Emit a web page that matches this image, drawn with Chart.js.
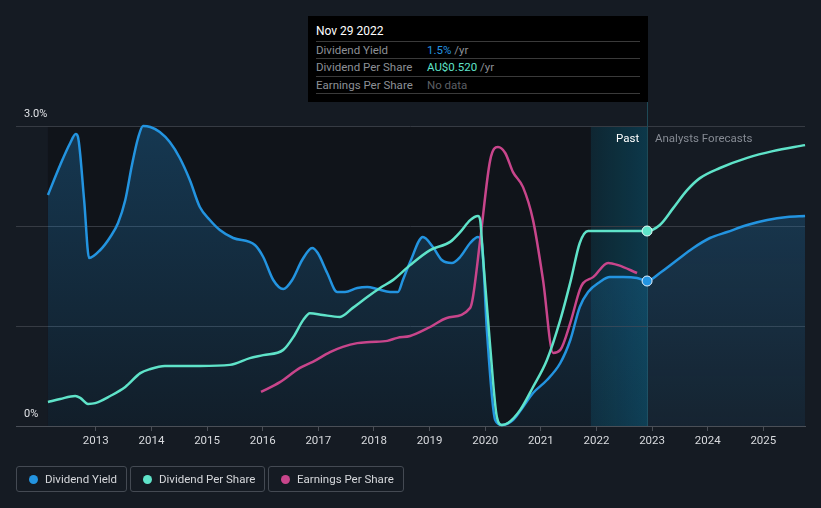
<!DOCTYPE html>
<html>
<head>
<meta charset="utf-8">
<script src="https://cdn.jsdelivr.net/npm/chart.js@4.4.1/dist/chart.umd.min.js"></script>
<style>
  html, body { margin: 0; padding: 0; background: #151b23; }
  body { width: 821px; height: 508px; position: relative; overflow: hidden; font-family: Roboto, "Open Sans", sans-serif; }
  #wrap { position: absolute; left: 0; top: 0; width: 821px; height: 508px; }
  #tip { position: absolute; left: 308px; top: 16px; width: 340px; height: 86px; background: #000; }
  #tip .title { position: absolute; left: 8px; top: 8px; color: #fff; font-size: 12px; line-height: 14px; }
  #tip .sep { position: absolute; left: 8px; width: 324px; height: 1px; background: #3a3a3a; }
  #tip .row { position: absolute; left: 8px; font-size: 11.5px; color: #8d9096; line-height: 14px; }
  #tip .val { position: absolute; left: 119px; font-size: 11.5px; color: #8d9096; line-height: 14px; }
  .lbl { position: absolute; font-size: 11.5px; line-height: 14px; }
  .legend { position: absolute; top: 466px; height: 26px; border: 1px solid #444a53; border-radius: 3px; box-sizing: border-box; color: #d6d8dc; font-size: 11.5px; line-height: 24px; }
  .legend .dot { position: absolute; left: 12px; top: 8px; width: 9px; height: 9px; border-radius: 50%; }
  .legend span.t { position: absolute; left: 28px; white-space: nowrap; }
</style>
</head>
<body>
<div id="wrap"><canvas id="c" width="821" height="508"></canvas></div>

<div id="tip">
  <div class="title">Nov 29 2022</div>
  <div class="sep" style="top:25px"></div>
  <div class="row" style="top:27px">Dividend Yield</div>
  <div class="val" style="top:27px"><span style="color:#2394e0">1.5%</span> /yr</div>
  <div class="sep" style="top:42px"></div>
  <div class="row" style="top:44px">Dividend Per Share</div>
  <div class="val" style="top:44px"><span style="color:#5fe3c9">AU$0.520</span> /yr</div>
  <div class="sep" style="top:60px"></div>
  <div class="row" style="top:62px">Earnings Per Share</div>
  <div class="val" style="top:62px;color:#5c5f64">No data</div>
  <div class="sep" style="top:77px"></div>
</div>

<div class="lbl" style="left:616px;top:131px;color:#ffffff">Past</div>
<div class="lbl" style="left:655px;top:131px;color:#858a93">Analysts Forecasts</div>

<div class="legend" style="left:16px;width:111px"><div class="dot" style="background:#2394e0"></div><span class="t">Dividend Yield</span></div>
<div class="legend" style="left:130px;width:135px"><div class="dot" style="background:#5fe3c9"></div><span class="t">Dividend Per Share</span></div>
<div class="legend" style="left:268px;width:136px"><div class="dot" style="background:#c8458b"></div><span class="t">Earnings Per Share</span></div>

<script>
// ---- data (decimal years) ----
const tickYears = [2013, 2014, 2015, 2016, 2017, 2018, 2019, 2020, 2021, 2022, 2023, 2024, 2025];
const yTickValues = [0, 1, 2, 3];

const yieldYears = [2012.14, 2012.36, 2012.54, 2012.64, 2012.68, 2012.79, 2012.88, 2013.08, 2013.26, 2013.40, 2013.53, 2013.65, 2013.76, 2013.85, 2013.98, 2014.15, 2014.33, 2014.51, 2014.69, 2014.87, 2015.05, 2015.23, 2015.47, 2015.86, 2016.01, 2016.19, 2016.37, 2016.53, 2016.71, 2016.89, 2016.99, 2017.16, 2017.34, 2017.48, 2017.70, 2017.88, 2018.06, 2018.29, 2018.43, 2018.52, 2018.65, 2018.88, 2019.06, 2019.22, 2019.40, 2019.55, 2019.73, 2019.87, 2019.94, 2020.03, 2020.18, 2020.30, 2020.50, 2020.68, 2020.86, 2021.11, 2021.35, 2021.53, 2021.70, 2021.85, 2022.06, 2022.24, 2022.48, 2022.73, 2022.91, 2023.14, 2023.45, 2023.74, 2024.04, 2024.35, 2024.71, 2025.07, 2025.43, 2025.75];
const yieldValues = [2.31, 2.61, 2.83, 2.92, 2.89, 2.26, 1.68, 1.76, 1.89, 2.03, 2.26, 2.61, 2.88, 3.00, 2.99, 2.94, 2.84, 2.68, 2.46, 2.19, 2.06, 1.96, 1.88, 1.81, 1.69, 1.46, 1.37, 1.46, 1.66, 1.78, 1.73, 1.53, 1.34, 1.34, 1.38, 1.39, 1.37, 1.34, 1.34, 1.46, 1.64, 1.89, 1.79, 1.66, 1.63, 1.69, 1.83, 1.89, 1.83, 0.96, 0.06, 0.01, 0.06, 0.19, 0.33, 0.46, 0.63, 0.86, 1.19, 1.34, 1.44, 1.49, 1.49, 1.48, 1.45, 1.53, 1.66, 1.78, 1.88, 1.94, 2.01, 2.06, 2.09, 2.10];

const dpsYears = [2012.14, 2012.36, 2012.63, 2012.72, 2012.86, 2012.99, 2013.26, 2013.53, 2013.80, 2013.98, 2014.24, 2014.87, 2015.41, 2015.77, 2016.01, 2016.37, 2016.55, 2016.73, 2016.85, 2017.08, 2017.39, 2017.62, 2017.88, 2018.11, 2018.34, 2018.65, 2019.01, 2019.37, 2019.55, 2019.73, 2019.87, 2019.91, 2019.96, 2020.09, 2020.21, 2020.30, 2020.41, 2020.63, 2020.86, 2021.11, 2021.35, 2021.54, 2021.70, 2021.85, 2022.20, 2022.91, 2023.14, 2023.38, 2023.63, 2023.86, 2024.22, 2024.71, 2025.17, 2025.75];
const dpsValues = [0.064, 0.072, 0.080, 0.075, 0.059, 0.061, 0.080, 0.104, 0.141, 0.152, 0.160, 0.160, 0.163, 0.181, 0.189, 0.203, 0.237, 0.283, 0.301, 0.296, 0.291, 0.315, 0.344, 0.368, 0.389, 0.429, 0.469, 0.491, 0.517, 0.549, 0.560, 0.549, 0.451, 0.211, 0.024, 0.003, 0.008, 0.043, 0.104, 0.176, 0.283, 0.389, 0.488, 0.520, 0.520, 0.520, 0.536, 0.581, 0.629, 0.661, 0.688, 0.715, 0.733, 0.749];

const epsYears = [2015.97, 2016.31, 2016.67, 2016.90, 2017.21, 2017.44, 2017.70, 2017.93, 2018.24, 2018.42, 2018.65, 2019.01, 2019.31, 2019.73, 2019.78, 2019.91, 2020.09, 2020.23, 2020.36, 2020.50, 2020.68, 2020.86, 2021.04, 2021.22, 2021.35, 2021.53, 2021.70, 2021.76, 2021.94, 2022.21, 2022.39, 2022.73];
const epsValues = [0.091, 0.117, 0.155, 0.171, 0.197, 0.211, 0.221, 0.224, 0.227, 0.235, 0.240, 0.264, 0.288, 0.315, 0.344, 0.496, 0.709, 0.744, 0.728, 0.677, 0.637, 0.549, 0.389, 0.195, 0.203, 0.275, 0.363, 0.381, 0.397, 0.435, 0.429, 0.408];

const xMin = 2011.5655, xMax = 2025.749;
const pastBandStart = 2021.90;
const markerYear = 2022.91;

const toPts = (xs, ys) => xs.map((x, i) => ({ x, y: ys[i] }));

const bgPlugin = {
  id: 'bg',
  beforeDraw(chart) {
    const { ctx, chartArea: a, scales: { x } } = chart;
    const x0 = x.getPixelForValue(yieldYears[0]);
    const xb = x.getPixelForValue(pastBandStart);
    const xm = x.getPixelForValue(markerYear);
    ctx.save();
    ctx.fillStyle = '#10141a';
    ctx.fillRect(x0, a.top, xb - x0, a.bottom - a.top);
    const g = ctx.createLinearGradient(xb, 0, xm, 0);
    g.addColorStop(0, 'rgba(14,40,52,0.9)');
    g.addColorStop(1, 'rgba(12,58,76,0.95)');
    ctx.fillStyle = g;
    ctx.fillRect(xb, a.top, xm - xb, a.bottom - a.top);
    ctx.restore();
  },
  beforeDatasetsDraw(chart) {
    const { ctx, chartArea: a, scales: { x } } = chart;
    const xm = Math.round(x.getPixelForValue(markerYear)) + 0.5;
    ctx.save();
    ctx.strokeStyle = '#1e4a57';
    ctx.lineWidth = 1;
    ctx.beginPath();
    ctx.moveTo(xm, 100);
    ctx.lineTo(xm, a.bottom);
    ctx.stroke();
    ctx.restore();
  }
};

const markerRadius = (c) => (c.raw && c.raw.x === markerYear ? 5 : 0);

const chart = new Chart(document.getElementById('c'), {
  type: 'line',
  data: {
    datasets: [
      {
        label: 'Dividend Per Share', data: toPts(dpsYears, dpsValues), yAxisID: 'yDps',
        borderColor: '#5fe3c9', borderWidth: 2.5, fill: false,
        pointRadius: markerRadius, pointBackgroundColor: '#5fe3c9', pointBorderColor: '#e8fffa', pointBorderWidth: 1,
        tension: 0.4, cubicInterpolationMode: 'monotone', clip: 8
      },
      {
        label: 'Earnings Per Share', data: toPts(epsYears, epsValues), yAxisID: 'yEps',
        borderColor: '#c8458b', borderWidth: 2.5, fill: false, pointRadius: 0,
        tension: 0.4, cubicInterpolationMode: 'monotone', clip: 8
      },
      {
        label: 'Dividend Yield', data: toPts(yieldYears, yieldValues), yAxisID: 'y',
        borderColor: '#2394e0', borderWidth: 2.5, fill: 'origin',
        backgroundColor: (c) => {
          const a = c.chart.chartArea;
          if (!a) return 'rgba(35,148,224,0.18)';
          const g = c.chart.ctx.createLinearGradient(0, a.top, 0, a.bottom);
          g.addColorStop(0, 'rgba(35,148,224,0.28)');
          g.addColorStop(1, 'rgba(35,148,224,0.08)');
          return g;
        },
        pointRadius: markerRadius, pointBackgroundColor: '#2394e0', pointBorderColor: '#e6f3ff', pointBorderWidth: 1,
        tension: 0.4, cubicInterpolationMode: 'monotone', clip: 8
      }
    ]
  },
  options: {
    responsive: false, animation: false,
    layout: { padding: { top: 126, left: 16, right: 16, bottom: 0 } },
    plugins: { legend: { display: false }, tooltip: { enabled: false } },
    scales: {
      x: {
        type: 'linear', min: xMin, max: xMax,
        afterBuildTicks: (s) => { s.ticks = tickYears.map(v => ({ value: v })); },
        afterFit: (s) => { s.height = 82; },
        grid: { drawOnChartArea: false, drawTicks: true, tickLength: 5, color: '#4a4f57' },
        border: { display: true, color: '#4a4f57', width: 1 },
        ticks: { color: '#d8dade', font: { family: 'Roboto', size: 11.5 }, padding: 3, maxRotation: 0, callback: (v) => String(v) }
      },
      y: {
        min: 0, max: 3,
        afterBuildTicks: (s) => { s.ticks = yTickValues.map(v => ({ value: v })); },
        afterFit: (s) => { s.width = 0; },
        grid: { drawTicks: false, color: '#363b43', lineWidth: 1 },
        border: { display: false },
        ticks: {
          mirror: true, padding: 8, labelOffset: -12, color: '#e0e2e6',
          font: { family: 'Roboto', size: 11 },
          callback: (v) => (v === 3 ? '3.0%' : v === 0 ? '0%' : '')
        }
      },
      yDps: { display: false, min: 0, max: 0.8 },
      yEps: { display: false, min: 0, max: 0.8 }
    }
  },
  plugins: [bgPlugin]
});
</script>
</body>
</html>
